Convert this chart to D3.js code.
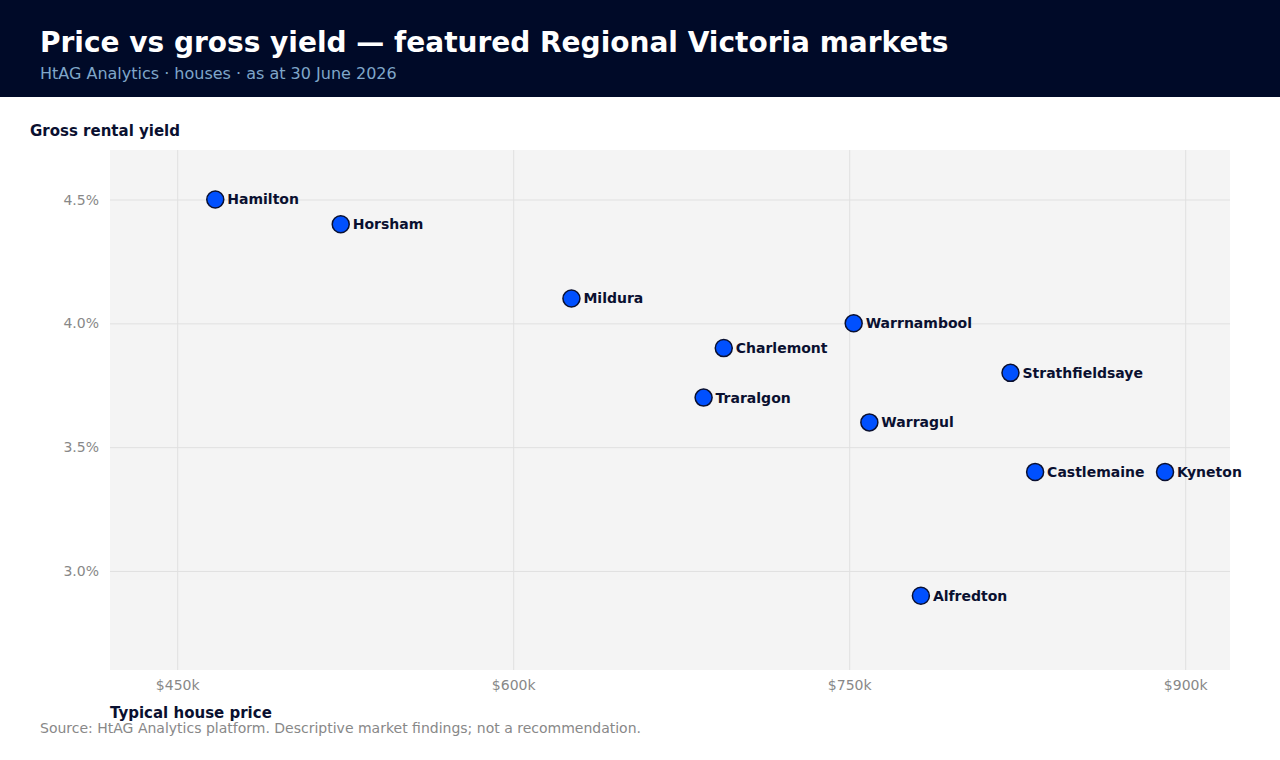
<!DOCTYPE html>
<html>
<head>
<meta charset="utf-8">
<script src="https://cdn.jsdelivr.net/npm/d3@7"></script>
<style>
  body { margin: 0; background: #fff; font-family: "DejaVu Sans", sans-serif; }
  svg { display: block; }
</style>
</head>
<body>
<div id="chart"></div>
<script>
// markets, price ($k) and gross yield (%)
const markets = ["Hamilton", "Horsham", "Mildura", "Charlemont", "Traralgon", "Warrnambool",
  "Warragul", "Strathfieldsaye", "Castlemaine", "Kyneton", "Alfredton"];
const prices = [467, 523, 626, 694, 685, 752, 759, 822, 833, 891, 782];
const yields = [4.5, 4.4, 4.1, 3.9, 3.7, 4.0, 3.6, 3.8, 3.4, 3.4, 2.9];
const xTicks = [450, 600, 750, 900];
const yTicks = [3.0, 3.5, 4.0, 4.5];

const width = 1280, height = 760;
const margins = { top: 150, right: 50, bottom: 90, left: 110 };
const innerWidth = width - margins.left - margins.right;
const innerHeight = height - margins.top - margins.bottom;

const data = markets.map((name, i) => ({ name, x: prices[i], y: yields[i] }));

const svg = d3.select('#chart').append('svg')
  .attr('width', width)
  .attr('height', height);

// header band
svg.append('rect')
  .attr('width', width).attr('height', 97)
  .attr('fill', '#000a28');

svg.append('text')
  .attr('x', 40).attr('y', 52)
  .attr('fill', '#fff')
  .style('font-size', '28px')
  .style('font-weight', 'bold')
  .text('Price vs gross yield — featured Regional Victoria markets');

svg.append('text')
  .attr('x', 40).attr('y', 79)
  .attr('fill', '#7fa6c9')
  .style('font-size', '16px')
  .text('HtAG Analytics · houses · as at 30 June 2026');

const xScale = d3.scaleLinear()
  .domain([420, 920])
  .range([0, innerWidth]);

const yScale = d3.scaleLinear()
  .domain([2.6, 4.7])
  .range([innerHeight, 0]);

const g = svg.append('g')
  .attr('transform', `translate(${margins.left}, ${margins.top})`);

g.append('rect')
  .attr('width', innerWidth).attr('height', innerHeight)
  .attr('fill', '#f4f4f4');

const xAxis = d3.axisBottom(xScale)
  .tickValues(xTicks)
  .tickSize(-innerHeight)
  .tickPadding(10)
  .tickFormat(d => `$${d}k`);

const yAxis = d3.axisLeft(yScale)
  .tickValues(yTicks)
  .tickSize(-innerWidth)
  .tickPadding(11)
  .tickFormat(d => `${d.toFixed(1)}%`);

g.append('g')
  .attr('class', 'x axis')
  .attr('transform', `translate(0, ${innerHeight})`)
  .call(xAxis)
  .call(a => a.select('.domain').remove())
  .call(a => a.selectAll('line').attr('stroke', '#e0e0e0'))
  .call(a => a.selectAll('text')
    .attr('fill', '#888')
    .style('font-family', '"DejaVu Sans", sans-serif')
    .style('font-size', '14px'));

g.append('g')
  .attr('class', 'y axis')
  .call(yAxis)
  .call(a => a.select('.domain').remove())
  .call(a => a.selectAll('line').attr('stroke', '#e0e0e0'))
  .call(a => a.selectAll('text')
    .attr('fill', '#888')
    .style('font-family', '"DejaVu Sans", sans-serif')
    .style('font-size', '14px'));

// axis titles
svg.append('text')
  .attr('x', 30).attr('y', 136)
  .attr('fill', '#0a1030')
  .style('font-size', '15px')
  .style('font-weight', 'bold')
  .text('Gross rental yield');

svg.append('text')
  .attr('x', 110).attr('y', 718)
  .attr('fill', '#0a1030')
  .style('font-size', '15px')
  .style('font-weight', 'bold')
  .text('Typical house price');

svg.append('text')
  .attr('x', 40).attr('y', 733)
  .attr('fill', '#888')
  .style('font-size', '14px')
  .text('Source: HtAG Analytics platform. Descriptive market findings; not a recommendation.');

// dots
const dots = g.selectAll('g.dot')
  .data(data)
  .enter()
  .append('g')
  .attr('class', 'dot')
  .attr('transform', d => `translate(${xScale(d.x)}, ${yScale(d.y)})`);

dots.append('circle')
  .attr('r', 8.5)
  .attr('fill', '#0050ff')
  .attr('stroke', '#0a1030')
  .attr('stroke-width', 1.5);

dots.append('text')
  .attr('x', 12)
  .attr('dy', '0.35em')
  .attr('fill', '#0a1030')
  .style('font-size', '14px')
  .style('font-weight', 'bold')
  .text(d => d.name);
</script>
</body>
</html>
